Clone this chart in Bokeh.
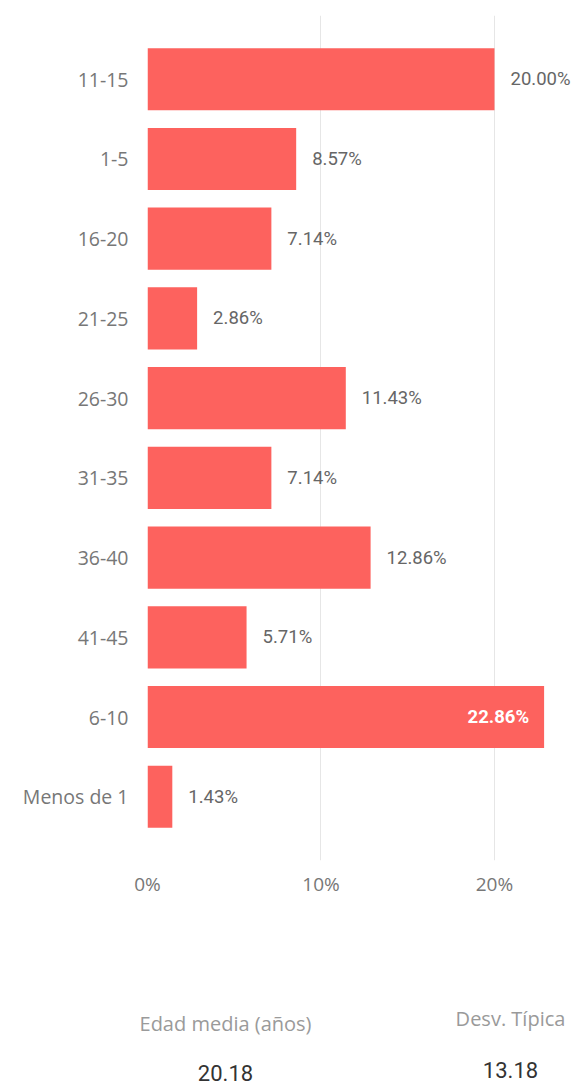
from bokeh.plotting import figure
from bokeh.layouts import column
from bokeh.models import FactorRange, ColumnDataSource, FixedTicker, CustomJSTickFormatter, Range1d
from bokeh.embed import file_html
from bokeh.resources import INLINE
from bokeh.core.properties import value

categories = ["11-15", "1-5", "16-20", "21-25", "26-30", "31-35", "36-40", "41-45", "6-10", "Menos de 1"]
percentages = [20.00, 8.57, 7.14, 2.86, 11.43, 7.14, 12.86, 5.71, 22.86, 1.43]
x_ticks = [0, 10, 20]
stat_titles = ["Edad media (años)", "Desv. Típica"]
stat_values = ["20.18", "13.18"]

BAR = "#FD625E"
W, H1, H2 = 575, 900, 186

p = figure(width=W, height=H1, output_backend="svg", toolbar_location=None,
           y_range=FactorRange(factors=categories[::-1], range_padding=0.3,
                               range_padding_units="absolute"),
           x_range=(0, 24.67),
           min_border_left=147, min_border_right=0, min_border_top=15,
           min_border_bottom=40)
p.outline_line_color = None
p.background_fill_color = "white"
p.border_fill_color = "white"
p.frame_align = False

p.hbar(y=categories, right=percentages, left=0, height=0.78, color=BAR, line_color=None)

inside = [v > 21 for v in percentages]
src_out = ColumnDataSource(dict(
    y=[c for c, f in zip(categories, inside) if not f],
    x=[v for v, f in zip(percentages, inside) if not f],
    t=[f"{v:.2f}%" for v, f in zip(percentages, inside) if not f]))
src_in = ColumnDataSource(dict(
    y=[c for c, f in zip(categories, inside) if f],
    x=[v for v, f in zip(percentages, inside) if f],
    t=[f"{v:.2f}%" for v, f in zip(percentages, inside) if f]))

p.text(x="x", y="y", text="t", source=src_out, x_offset=16, text_align="left",
       text_baseline="middle", text_font=value("Roboto"), text_font_size="18.5px",
       text_color="#666666")
p.text(x="x", y="y", text="t", source=src_in, x_offset=-15, text_align="right",
       text_baseline="middle", text_font=value("Roboto"), text_font_size="18.5px",
       text_font_style="bold", text_color="white")

# axes
p.yaxis.axis_line_color = None
p.yaxis.major_tick_line_color = None
p.yaxis.minor_tick_line_color = None
p.yaxis.major_label_standoff = 13
p.yaxis.major_label_text_font = "Open Sans"
p.yaxis.major_label_text_font_size = "19.5px"
p.yaxis.major_label_text_color = "#777777"

p.xaxis.axis_line_color = None
p.xaxis.major_tick_line_color = None
p.xaxis.minor_tick_line_color = None
p.xaxis.ticker = FixedTicker(ticks=x_ticks)
p.xaxis.formatter = CustomJSTickFormatter(code="return tick + '%';")
p.xaxis.major_label_standoff = 4
p.xaxis.major_label_text_font = "Open Sans"
p.xaxis.major_label_text_font_size = "19px"
p.xaxis.major_label_text_color = "#777777"

p.ygrid.grid_line_color = None
p.xgrid.grid_line_color = "#e6e6e6"
p.xgrid.ticker = FixedTicker(ticks=x_ticks)

# bottom statistics panel (pixel coordinates, y measured downward)
q = figure(width=W, height=H2, output_backend="svg", toolbar_location=None,
           x_range=Range1d(0, W), y_range=Range1d(H2, 0),
           min_border=0, outline_line_color=None)
q.frame_align = False
q.axis.visible = False
q.grid.visible = False

q.text(x=[225, 510], y=[123, 118], text=stat_titles, text_align="center",
       text_baseline="middle", text_font=value("Open Sans"), text_font_size="20px",
       text_color="#9a9a9a")
q.text(x=[225, 510], y=[172, 169], text=stat_values, text_align="center",
       text_baseline="middle", text_font=value("Roboto"), text_font_size="22px",
       text_color="#333333")

open("out.html", "w").write(file_html(column(p, q, spacing=0), INLINE))
